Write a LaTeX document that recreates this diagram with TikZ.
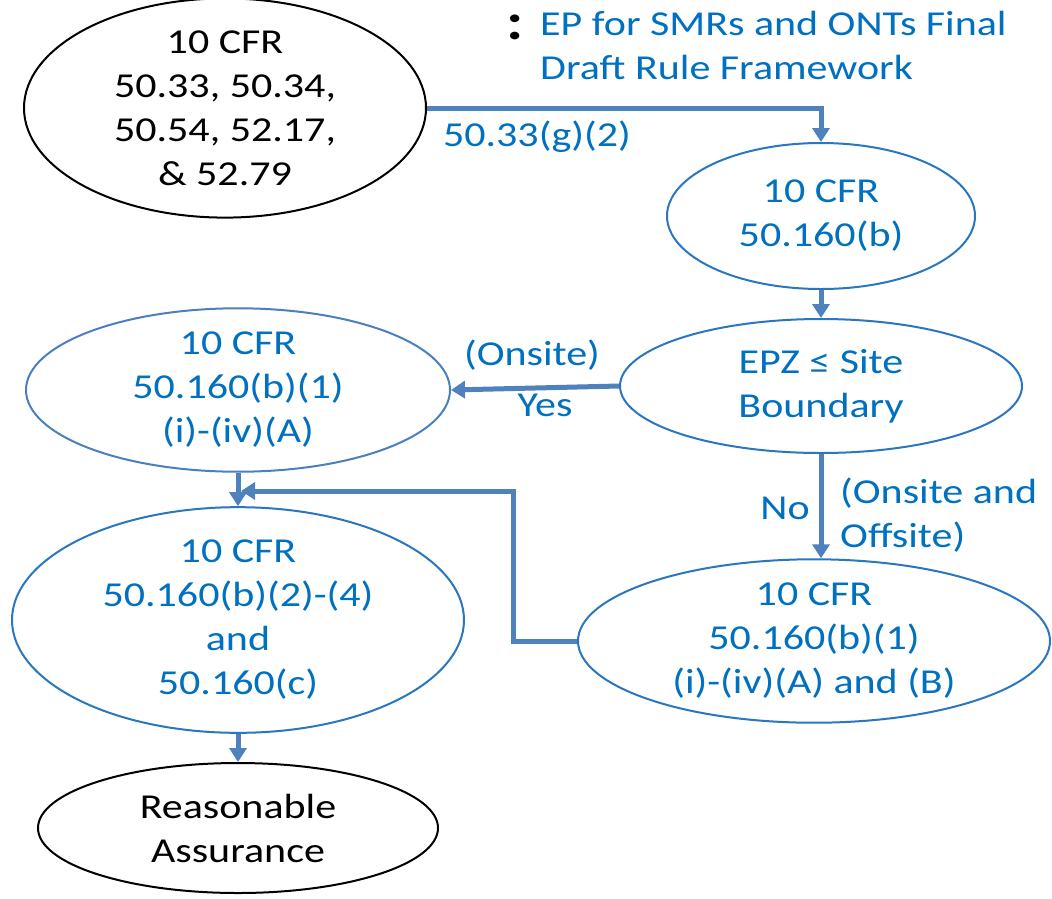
\documentclass[tikz,border=0pt]{standalone}
\usepackage{fontspec}
\setmainfont{Carlito}[FakeStretch=1.2]
\usetikzlibrary{arrows.meta,shapes.geometric}
\definecolor{txtblue}{HTML}{0070C0}
\definecolor{lineblue}{HTML}{4F81BD}
\definecolor{ellblue}{HTML}{2A77C0}
\definecolor{ellblueA}{HTML}{4A80C0}
\begin{document}
\begin{tikzpicture}[x=1pt,y=-1pt,
  every node/.style={font=\fontsize{35}{44}\selectfont},
  ell/.style={ellipse, draw, line width=2pt, inner sep=0pt, align=center},
  blk/.style={ell, draw=black, text=black},
  blu/.style={ell, draw=ellblue, text=txtblue},
  arr/.style={line width=5pt, draw=lineblue, -{Triangle[length=14pt,width=17pt]}},
  lbl/.style={text=txtblue, inner sep=0pt}]
\useasboundingbox (0,0) rectangle (1052,898);
\fill[white] (0,0) rectangle (1052,898);

\node[blk, minimum width=402pt, minimum height=180pt] (top) at (225,108) {10 CFR\\50.33, 50.34,\\50.54, 52.17,\\\& 52.79};
\node[blu, minimum width=308pt, minimum height=146pt] (n160b) at (821,216) {10 CFR\\50.160(b)};
\node[blu, minimum width=402pt, minimum height=134pt] (epz) at (821,386) {EPZ ≤ Site\\Boundary};
\node[blu, draw=ellblueA, minimum width=424pt, minimum height=134pt] (a) at (238,390) {10 CFR\\50.160(b)(1)\\(i)-(iv)(A)};
\node[blu, minimum width=452pt, minimum height=180pt] (c) at (238,620) {10 CFR\\50.160(b)(2)-(4)\\and\\50.160(c)};
\node[blu, minimum width=472pt, minimum height=150pt] (b) at (814,641) {10 CFR\\50.160(b)(1)\\(i)-(iv)(A) and (B)};
\node[blk, minimum width=400pt, minimum height=130pt] (ra) at (238,828) {Reasonable\\Assurance};

\node[inner sep=0pt, text=black, font=\fontsize{52}{52}\selectfont\bfseries] (colon) at (515,27) {:};
\node[lbl, anchor=west, align=left] (title) at (540,45) {EP for SMRs and ONTs Final\\Draft Rule Framework};

\coordinate (j) at (241,491);

\draw[arr] (top.east) -| (n160b.north);
\draw[arr] (n160b.south) -- (epz.north);
\draw[arr] (epz.west) -- (a.east);
\draw[arr] (epz.south) -- (epz.south |- b.north);
\draw[arr] (a.south) -- (c.north);
\draw[arr] (b.west) -- ++(-64,0) |- (j);
\draw[arr] (c.south) -- (ra.north);

\node[lbl] (l1) at (537,137) {50.33(g)(2)};
\node[lbl] (l2) at (532,355) {(Onsite)};
\node[lbl] (l3) at (545,405) {Yes};
\node[lbl] (l4) at (785,508) {No};
\node[lbl, anchor=west, align=left] (l5) at (840,515) {(Onsite and\\Offsite)};
\end{tikzpicture}
\end{document}
